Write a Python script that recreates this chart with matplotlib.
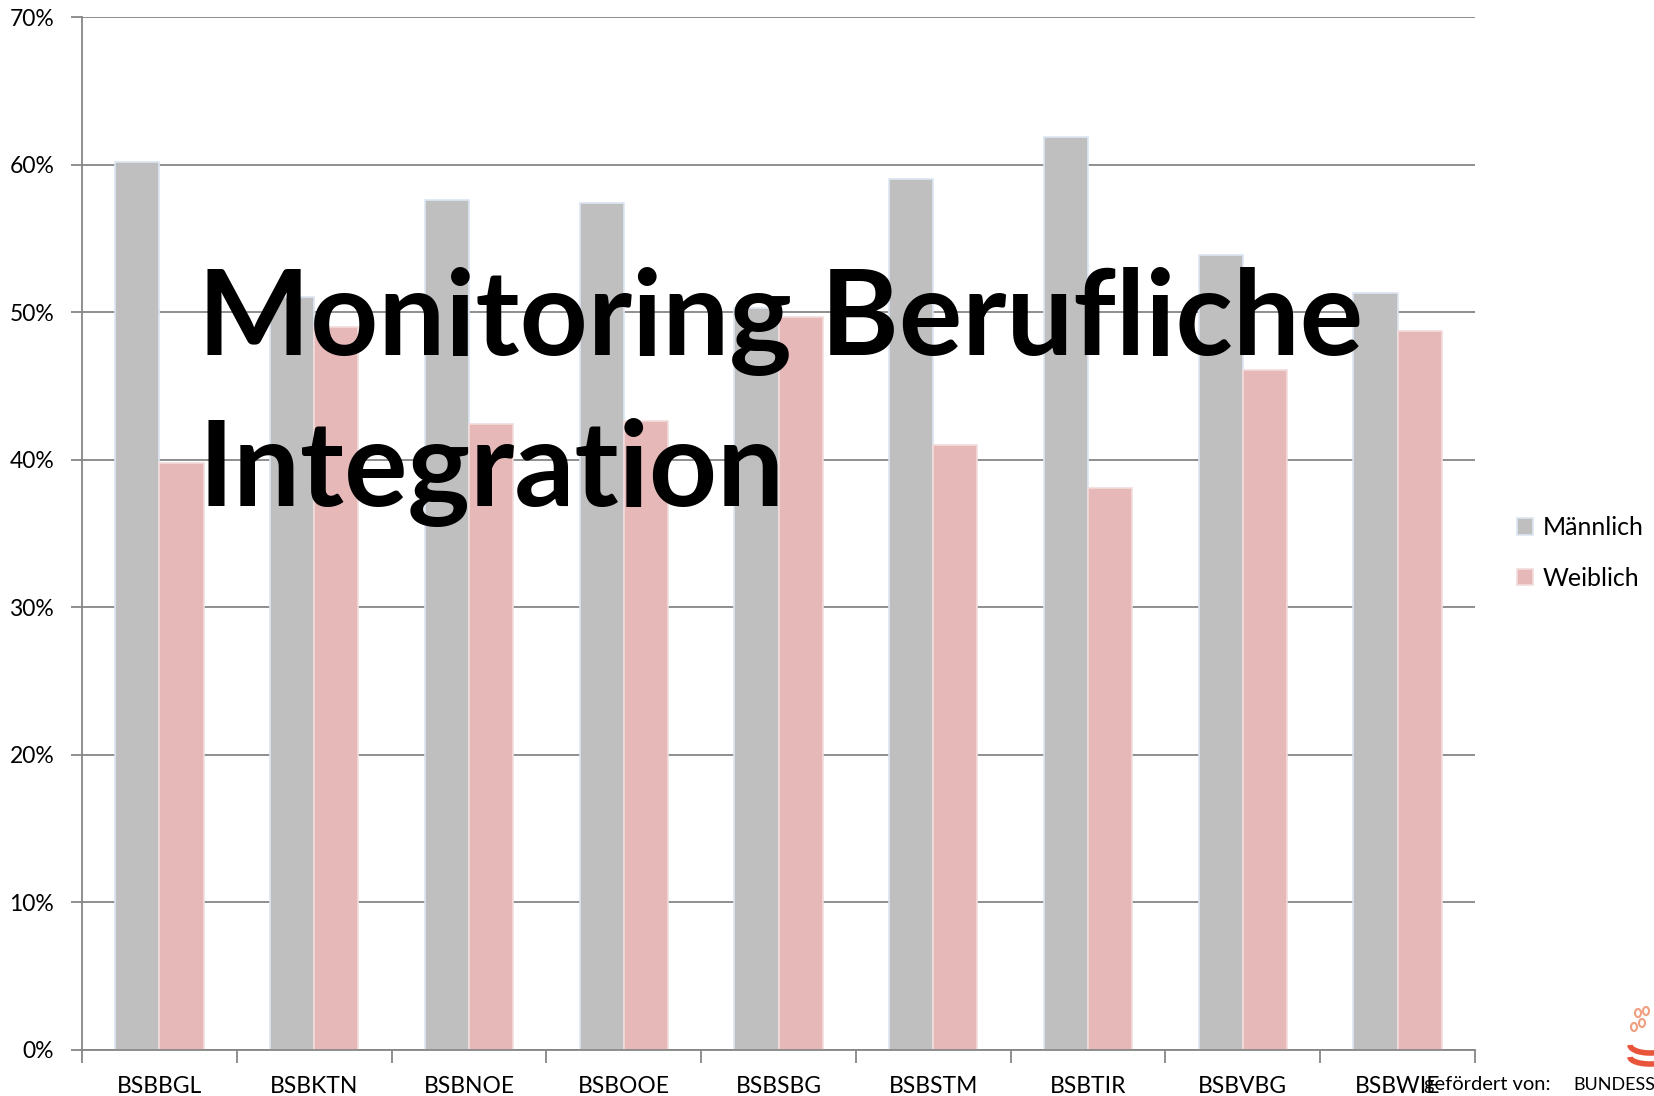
import numpy as np
import matplotlib.pyplot as plt
from matplotlib.ticker import PercentFormatter
from matplotlib.patches import Arc

# Daten
regionen = ['BSBBGL', 'BSBKTN', 'BSBNOE', 'BSBOOE', 'BSBSBG', 'BSBSTM', 'BSBTIR', 'BSBVBG', 'BSBWIE']
maennlich = [60.2, 51.0, 57.6, 57.4, 50.3, 59.0, 61.9, 53.9, 51.3]
weiblich = [39.8, 49.0, 42.4, 42.6, 49.7, 41.0, 38.1, 46.1, 48.7]
y_ticks = [0, 10, 20, 30, 40, 50, 60, 70]

plt.rcParams['font.family'] = ['Lato', 'DejaVu Sans']

fig = plt.figure(figsize=(16.54, 10.96), dpi=100)
ax = fig.add_axes([82 / 1654, 1 - 1050 / 1096, (1475 - 82) / 1654, (1050 - 17) / 1096])

x = np.arange(len(regionen))
w = 0.285
ax.bar(x - w / 2, maennlich, w, color='#bfbfbf', edgecolor='#dce6f2', lw=1.2, label='Männlich', zorder=2)
ax.bar(x + w / 2, weiblich, w, color='#e6b9b8', edgecolor='#f2dcdb', lw=1.2, label='Weiblich', zorder=2)

ax.set_xlim(-0.5, len(regionen) - 0.5)
ax.set_ylim(0, 70)
ax.set_yticks(y_ticks)
ax.yaxis.set_major_formatter(PercentFormatter(decimals=0))
ax.yaxis.grid(True, color='#868686', lw=1.3, zorder=0)
ax.set_axisbelow(True)

# x-Ticks an den Kategoriegrenzen, Beschriftung in der Mitte
ax.set_xticks(np.arange(len(regionen) + 1) - 0.5)
ax.set_xticklabels([])
ax.set_xticks(x, minor=True)
ax.set_xticklabels(regionen, minor=True, fontsize=16.5)
ax.tick_params(axis='x', which='major', length=9, width=1.3, color='#868686', direction='out')
ax.tick_params(axis='x', which='minor', length=0, pad=19)
ax.tick_params(axis='y', length=8, width=1.3, color='#868686', labelsize=16.5, pad=12)

for s in ['top', 'right']:
    ax.spines[s].set_visible(False)
for s in ['left', 'bottom']:
    ax.spines[s].set_color('#868686')
    ax.spines[s].set_linewidth(1.3)

leg = fig.legend(loc='center left', bbox_to_anchor=(1494 / 1654, 1 - 553 / 1096), frameon=False,
                 fontsize=18, handlelength=0.65, handleheight=0.65, handletextpad=0.4, labelspacing=1.1)

# Titel über dem Diagramm
fig.text(198 / 1654, 1 - 355 / 1096, 'Monitoring Berufliche', fontsize=85.5, fontweight='bold', color='black')
fig.text(198 / 1654, 1 - 506 / 1096, 'Integration', fontsize=85.5, fontweight='bold', color='black')

# Fußzeile mit Logo
fig.text(1424 / 1654, 1 - 1090 / 1096, 'gefördert von:', fontsize=14.5)
fig.text(1573 / 1654, 1 - 1090 / 1096, 'BUNDESS', fontsize=13)
lax = fig.add_axes([1620 / 1654, 1 - 1075 / 1096, 40 / 1654, 75 / 1096])
lax.set_xlim(0, 40)
lax.set_ylim(0, 75)
lax.axis('off')
lax.add_patch(Arc((30, 30), 40, 16, theta1=180, theta2=300, color='#e8553a', lw=4))
lax.add_patch(Arc((30, 18), 40, 14, theta1=180, theta2=300, color='#e8553a', lw=4))
for cx, cy in [(18, 62), (26, 64), (22, 52), (14, 48)]:
    lax.add_patch(Arc((cx, cy), 6, 8, color='#f0a080', lw=1.5))

fig.savefig('out.png', dpi=100)
